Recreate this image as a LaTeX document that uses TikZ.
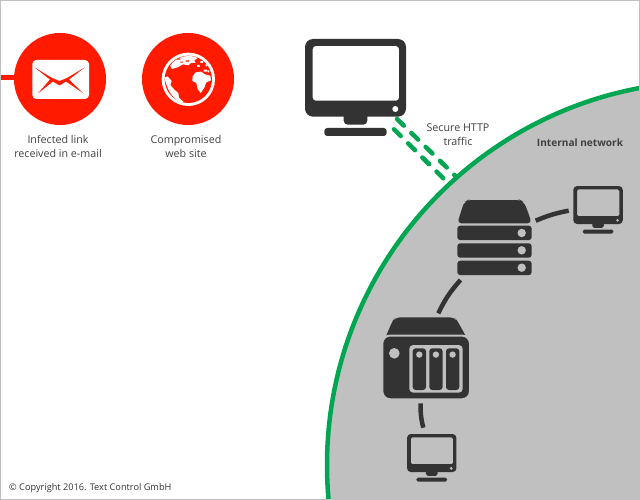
\documentclass[tikz,border=0pt]{standalone}
\usepackage{fontspec}
\setmainfont{Open Sans}
\definecolor{alertred}{HTML}{FF1A00}
\definecolor{netgreen}{HTML}{00A651}
\definecolor{netgray}{HTML}{C0C0C0}
\definecolor{icondark}{HTML}{333333}
\definecolor{labeltext}{HTML}{404040}
\tikzset{
  label text/.style={text=labeltext,font=\fontsize{10.7}{14}\selectfont,align=center,inner sep=0pt},
  lan link/.style={draw=icondark,line width=4.5pt},
  secure link/.style={draw=netgreen,line width=4.5pt,line cap=round,dash pattern=on 9.5pt off 10.5pt},
}
\newcommand{\monitoricon}[4]{%
  \begin{scope}[shift={(#1,#2)},scale=#3]
    \pgfmathsetmacro{\mons}{#3}
    \fill[icondark,even odd rule,rounded corners=\mons*8pt] (0,0) rectangle (101,77.7)
      [rounded corners=\mons*3pt] (7.7,7) rectangle (94,61.7);
    \fill[#4] (90.3,70) circle (3);
    \fill[icondark,rounded corners=\mons*4pt] (38.7,70) -- (38.7,85.7) -- (62.3,85.7) -- (62.3,70) -- cycle;
    \fill[icondark,rounded corners=\mons*3pt] (19.3,97) -- (19.3,89) -- (81.7,89) -- (81.7,97) -- cycle;
  \end{scope}}
\begin{document}
\begin{tikzpicture}[x=1pt,y=-1pt]
\useasboundingbox (0,0) rectangle (640,500);
% connector end points
\coordinate (pcA) at (397,119);
\coordinate (pcB) at (394,129.3);
\coordinate (edgeA) at (456,176.5);
\coordinate (edgeB) at (446.7,181.7);
\coordinate (srvE) at (535.7,220.7);
\coordinate (monRW) at (568.7,210.7);
\coordinate (srvS) at (460.5,280);
\coordinate (nasN) at (438.3,313.3);
\coordinate (nasS) at (420.7,403.3);
\coordinate (monBN) at (423.3,427.7);
\coordinate (stubL) at (1,78);
\coordinate (mailW) at (16,78);
% secure traffic
\draw[secure link] (pcA) -- (edgeA);
\draw[secure link] (pcB) -- (edgeB);
% network region
\begin{scope}
  \clip (0,0) rectangle (640,500);
  \draw[draw=netgreen,fill=netgray,line width=4.5pt] (710.5,465) circle (383.5);
\end{scope}
% LAN links
\draw[lan link] (srvE) to[bend left=6] (monRW);
\draw[lan link] (srvS) to[bend right=8] (nasN);
\draw[lan link] (nasS) to[bend right=8] (monBN);
% stub and red circles
\draw[alertred,line width=5pt] (stubL) -- (mailW);
\fill[alertred] (60,79) circle (46);
\fill[alertred] (188,79) circle (46);
% envelope
\fill[white,rounded corners=4pt] (32.3,60) rectangle (89,99);
\fill[alertred] (34.3,67.3) -- (52,78) -- (59.5,81) -- (67,78) -- (85,67.3) -- (69,79.5)
  -- (83.3,93.3) -- (66,81.5) -- (59.5,85.5) -- (53,81.5) -- (38,93.3) -- (50,79.5) -- cycle;
% globe
\begin{scope}[shift={(155,47)},scale=1/3]
  \fill[white] (100,97) circle (80);
  \fill[alertred] (100,97) circle (71);
  \fill[white] (46,56) .. controls (60,35) and (80,27) .. (100,27) .. controls (112,27) and (120,29) .. (128,33)
    -- (118,40) -- (122,48) -- (108,48) -- (100,55) -- (84,52) -- (70,60) -- (58,64) -- (50,66) -- cycle;
  \fill[white] (29,92) -- (38,88) -- (50,102) -- (46,114) -- (58,128) -- (70,138) -- (72,152) -- (86,165) -- (78,168)
    .. controls (55,155) and (35,130) .. (29,92) -- cycle;
  \fill[white] (113,88) -- (122,76) -- (138,74) -- (150,82) -- (166,86) -- (168,100) -- (154,106) -- (148,122) -- (137,138) -- (128,126) -- (124,108) -- (112,102) -- cycle;
  \fill[alertred] (66,34) rectangle (76,38) (92,40) rectangle (102,44) (76,44) rectangle (84,47);
  \fill[white] (126,54) rectangle (134,60) (146,68) rectangle (156,74) (136,42) rectangle (144,48) (158,70) rectangle (163,76) (152,52) rectangle (157,58);
\end{scope}
% large workstation
\monitoricon{305}{39}{1}{white}
\monitoricon{573.3}{186}{0.49}{netgray}
\monitoricon{407}{434}{0.49}{netgray}
% server
\fill[icondark,rounded corners=4pt] (457.3,223.3) .. controls (460,215) and (463,205) .. (466,201)
  -- (468,200) -- (520,200) -- (522,201) .. controls (526,206) and (529,215) .. (531.7,223.3) -- cycle;
\foreach \rowtop/\dotrow in {225.7/233,243.3/250.3,260.7/267.7}{
  \fill[icondark,rounded corners=3pt] (457.3,\rowtop) rectangle (531.7,\rowtop+14.4);
  \fill[netgray] (521.7,\dotrow) circle (4.2);
}
% storage box
\fill[icondark,rounded corners=5pt] (384,341) -- (392,322) -- (395,317.3) -- (455,317.3) -- (458,322) -- (468.5,341) -- cycle;
\draw[netgray,fill=icondark,line width=2pt,rounded corners=8pt] (382.3,335.5) rectangle (470,399.3);
\fill[netgray] (394.3,353.3) circle (5.3);
\fill[netgray,rounded corners=4pt] (409.3,345) rectangle (462.7,392.7);
\foreach \bayx in {412.7,429.3,446}{
  \fill[icondark,rounded corners=3pt] (\bayx,348.3) rectangle (\bayx+13.3,390);
  \fill[netgray] (\bayx+6.6,354.6) circle (3.2);
}
% labels
\node[label text,anchor=north] (lblMail) at (58,135) {Infected link\\received in e-mail};
\node[label text,anchor=north] (lblWeb) at (186,135) {Compromised\\web site};
\node[label text,anchor=north] (lblHttp) at (458,124) {Secure HTTP\\traffic};
\node[label text,anchor=base,font=\fontsize{10.1}{14}\selectfont\bfseries] (lblNet) at (580,146.5) {Internal network};
\node[label text,anchor=base west,text=icondark,font=\fontsize{9.2}{12}\selectfont] (lblCopy) at (9,490) {© Copyright 2016. Text Control GmbH};
% frame
\draw[netgray,line width=1pt] (0.5,0.5) rectangle (639.5,499.5);
\end{tikzpicture}
\end{document}
